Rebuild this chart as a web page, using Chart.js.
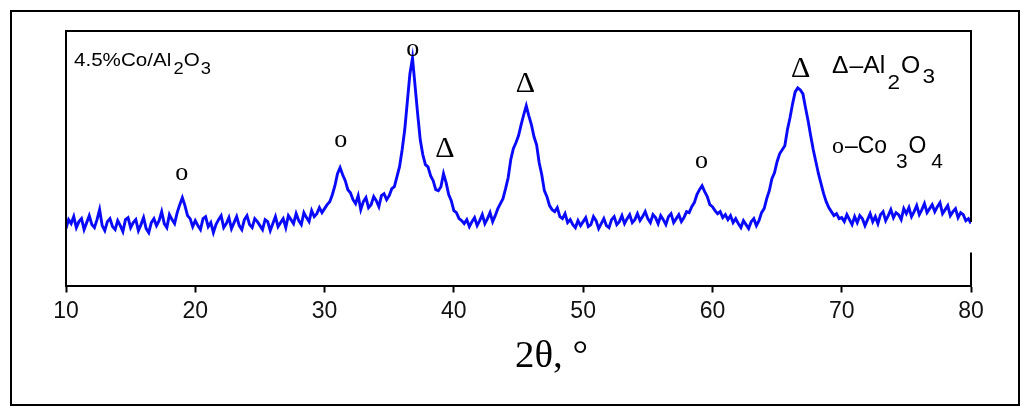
<!DOCTYPE html>
<html>
<head>
<meta charset="utf-8">
<script src="https://cdn.jsdelivr.net/npm/chart.js@4.4.1/dist/chart.umd.min.js"></script>
<style>
  html, body { margin: 0; padding: 0; background: #fff; }
  #wrap { width: 1027px; height: 417px; position: relative; }
</style>
</head>
<body>
<div id="wrap"><canvas id="c" width="1027" height="417"></canvas></div>
<script>
// ---------- DATA ----------
const twoTheta = [
  10,10.2,10.4,10.6,10.8,11,11.2,11.4,11.6,11.8,12,12.2,12.4,12.6,12.8,13,13.2,13.4,13.6,13.8,14,14.2,14.4,14.6,14.8,
  15,15.2,15.4,15.6,15.8,16,16.2,16.4,16.6,16.8,17,17.2,17.4,17.6,17.8,18,18.2,18.4,18.6,18.8,19,19.2,19.4,19.6,19.8,
  20,20.2,20.4,20.6,20.8,21,21.2,21.4,21.6,21.8,22,22.2,22.4,22.6,22.8,23,23.2,23.4,23.6,23.8,24,24.2,24.4,24.6,24.8,
  25,25.2,25.4,25.6,25.8,26,26.2,26.4,26.6,26.8,27,27.2,27.4,27.6,27.8,28,28.2,28.4,28.6,28.8,29,29.2,29.4,29.6,29.8,
  30,30.2,30.4,30.6,30.8,31,31.2,31.4,31.6,31.8,32,32.2,32.4,32.6,32.8,33,33.2,33.4,33.6,33.8,34,34.2,34.4,34.6,34.8,
  35,35.2,35.4,35.6,35.8,36,36.2,36.4,36.6,36.8,37,37.2,37.4,37.6,37.8,38,38.2,38.4,38.6,38.8,39,39.2,39.4,39.6,39.8,
  40,40.2,40.4,40.6,40.8,41,41.2,41.4,41.6,41.8,42,42.2,42.4,42.6,42.8,43,43.2,43.4,43.6,43.8,44,44.2,44.4,44.6,44.8,
  45,45.2,45.4,45.6,45.8,46,46.2,46.4,46.6,46.8,47,47.2,47.4,47.6,47.8,48,48.2,48.4,48.6,48.8,49,49.2,49.4,49.6,49.8,
  50,50.2,50.4,50.6,50.8,51,51.2,51.4,51.6,51.8,52,52.2,52.4,52.6,52.8,53,53.2,53.4,53.6,53.8,54,54.2,54.4,54.6,54.8,
  55,55.2,55.4,55.6,55.8,56,56.2,56.4,56.6,56.8,57,57.2,57.4,57.6,57.8,58,58.2,58.4,58.6,58.8,59,59.2,59.4,59.6,59.8,
  60,60.2,60.4,60.6,60.8,61,61.2,61.4,61.6,61.8,62,62.2,62.4,62.6,62.8,63,63.2,63.4,63.6,63.8,64,64.2,64.4,64.6,64.8,
  65,65.2,65.4,65.6,65.8,66,66.2,66.4,66.6,66.8,67,67.2,67.4,67.6,67.8,68,68.2,68.4,68.6,68.8,69,69.2,69.4,69.6,69.8,
  70,70.2,70.4,70.6,70.8,71,71.2,71.4,71.6,71.8,72,72.2,72.4,72.6,72.8,73,73.2,73.4,73.6,73.8,74,74.2,74.4,74.6,74.8,
  75,75.2,75.4,75.6,75.8,76,76.2,76.4,76.6,76.8,77,77.2,77.4,77.6,77.8,78,78.2,78.4,78.6,78.8,79,79.2,79.4,79.6,79.8,
  80
];
const intensity = [
  57,66,62,69,58,64,67,56,63,70,61,58,66,76,60,55,64,67,59,56,65,60,54,66,68,
  58,63,66,55,61,68,57,53,63,67,60,65,74,62,58,71,66,62,73,81,88,80,70,67,59,
  65,60,56,67,69,59,63,53,61,66,70,58,62,68,57,63,69,60,56,66,70,61,58,67,64,
  60,56,66,64,55,62,69,59,63,67,58,70,66,62,72,65,61,73,68,64,75,69,72,78,73,
  77,81,84,91,100,112,118,111,105,96,93,86,82,90,76,84,88,78,81,89,85,79,90,92,86,
  90,97,99,109,119,136,156,184,212,228,200,172,146,131,121,119,110,105,96,95,99,112,103,91,85,
  75,73,67,65,62,66,59,64,68,60,65,71,62,67,73,64,70,77,82,87,97,108,126,137,143,
  150,161,171,180,170,161,149,141,123,111,95,89,80,76,74,78,69,67,72,63,66,61,58,65,60,
  64,68,59,61,69,65,57,62,67,60,58,66,69,61,64,70,62,67,71,63,66,72,65,69,74,
  67,63,71,68,62,70,66,61,69,72,63,67,71,64,68,74,73,79,83,91,96,100,94,89,81,
  79,75,72,74,68,71,66,70,63,67,62,58,65,61,57,64,67,60,65,73,77,87,95,107,113,
  124,132,136,140,156,168,182,194,198,196,192,178,165,150,136,124,112,102,92,84,78,74,70,72,67,
  68,64,71,66,61,69,63,70,67,60,66,72,64,69,62,71,74,65,70,76,68,73,71,66,77,
  72,78,69,74,80,71,76,82,73,77,81,74,79,83,72,76,80,70,74,77,68,73,71,65,67,
  62
];
const tickValues = [10, 20, 30, 40, 50, 60, 70, 80];
// phase markers: 2θ of the labelled peak and the intensity level where the symbol sits
const co3o4Angles = [18.96, 31.25, 36.82, 59.15];
const co3o4Levels = [112, 145, 236, 123.5];
const al2o3Angles = [39.3, 45.53, 66.83];
const al2o3Levels = [139, 204, 219];
const sampleLabel = ['4.5%Co/Al', '2', 'O', '3'];
const legendAl = ['Δ', '–', 'Al', '2', 'O', '3'];
const legendCo = ['o', '–Co', '3', 'O', '4'];
const axisTitle = '2θ, °';

// ---------- drawing helpers ----------
const SANS = '"Liberation Sans", Arial, sans-serif';
const SERIF = '"Liberation Serif", "Times New Roman", serif';

function rich(ctx, x, y, parts, targetW) {
  let w = 0;
  parts.forEach(p => { ctx.font = p.f; w += (p.g || 0) + ctx.measureText(p.t).width; });
  const sx = targetW ? targetW / w : 1;
  ctx.save();
  ctx.translate(x, y);
  ctx.scale(sx, 1);
  ctx.textAlign = 'left';
  ctx.textBaseline = 'alphabetic';
  let cx = 0;
  parts.forEach(p => {
    ctx.font = p.f;
    cx += p.g || 0;
    ctx.fillText(p.t, cx, p.dy || 0);
    cx += ctx.measureText(p.t).width;
  });
  ctx.restore();
}

const decor = {
  id: 'decor',
  beforeDraw(chart) {
    const ctx = chart.ctx;
    ctx.save();
    ctx.fillStyle = '#fff';
    ctx.fillRect(0, 0, chart.width, chart.height);
    ctx.restore();
  },
  afterDatasetsDraw(chart) {
    const { ctx, chartArea: a, scales: { x, y } } = chart;
    ctx.save();
    ctx.fillStyle = '#000';
    ctx.strokeStyle = '#000';
    // outer frame
    ctx.lineWidth = 2;
    ctx.strokeRect(11, 11, 1008, 394);
    // inner box (top, left, right with its small gap)
    ctx.beginPath();
    ctx.moveTo(a.left, a.bottom);
    ctx.lineTo(a.left, a.top);
    ctx.lineTo(a.right, a.top);
    ctx.lineTo(a.right, a.top + a.height * 0.75);
    ctx.moveTo(a.right, a.top + a.height * 0.87);
    ctx.lineTo(a.right, a.bottom);
    ctx.stroke();

    // peak symbols
    ctx.textAlign = 'center';
    ctx.textBaseline = 'alphabetic';
    ctx.font = '26px ' + SERIF;
    co3o4Angles.forEach((t, i) => {
      ctx.fillText('o', x.getPixelForValue(t), y.getPixelForValue(co3o4Levels[i]) + 26 * 0.23);
    });
    ctx.font = '30px ' + SERIF;
    al2o3Angles.forEach((t, i) => {
      ctx.fillText('Δ', x.getPixelForValue(t), y.getPixelForValue(al2o3Levels[i]) + 30 * 0.33);
    });

    // sample label
    rich(ctx, a.left + 8, a.top + 34.5, [
      { t: sampleLabel[0], f: '18px ' + SANS },
      { t: sampleLabel[1], f: '16px ' + SANS, dy: 8, g: 2 },
      { t: sampleLabel[2], f: '18px ' + SANS },
      { t: sampleLabel[3], f: '16px ' + SANS, dy: 8, g: 1 }
    ], 137);

    // phase legend
    rich(ctx, 832, 73, [
      { t: legendAl[0], f: '23px ' + SANS },
      { t: legendAl[1], f: '23px ' + SANS, g: 1 },
      { t: legendAl[2], f: '23px ' + SANS },
      { t: legendAl[3], f: '21px ' + SANS, dy: 16, g: 2 },
      { t: legendAl[4], f: '23px ' + SANS, g: 1 },
      { t: legendAl[5], f: '21px ' + SANS, dy: 10, g: 2 }
    ], 103);
    rich(ctx, 832, 153, [
      { t: legendCo[0], f: '24px ' + SERIF },
      { t: legendCo[1], f: '23px ' + SANS, g: 1 },
      { t: legendCo[2], f: '21px ' + SANS, dy: 15, g: 9 },
      { t: legendCo[3], f: '23px ' + SANS, g: 1 },
      { t: legendCo[4], f: '21px ' + SANS, dy: 15, g: 5 }
    ], 111);

    // x-axis title
    rich(ctx, 515, 367, [{ t: axisTitle, f: '37px ' + SERIF }], 73);
    ctx.restore();
  }
};

const points = twoTheta.map((t, i) => ({ x: t, y: intensity[i] }));

new Chart(document.getElementById('c'), {
  type: 'line',
  data: {
    datasets: [{
      data: points,
      borderColor: 'rgb(10,10,250)',
      borderWidth: 2.9,
      pointRadius: 0,
      tension: 0,
      fill: false
    }]
  },
  options: {
    responsive: false,
    animation: false,
    devicePixelRatio: 1,
    layout: { padding: { left: 66, right: 56, top: 31, bottom: 0 } },
    plugins: { legend: { display: false }, tooltip: { enabled: false } },
    scales: {
      x: {
        type: 'linear',
        min: 10,
        max: 80,
        afterBuildTicks(scale) { scale.ticks = tickValues.map(v => ({ value: v })); },
        afterFit(scale) { scale.height = 131.5; },
        ticks: {
          color: '#111',
          padding: 5,
          font: { family: SANS, size: 23 },
          callback: v => String(v)
        },
        grid: {
          drawOnChartArea: false,
          drawTicks: true,
          tickLength: 7,
          tickColor: '#000',
          tickWidth: 2
        },
        border: { display: true, color: '#000', width: 2 },
        title: { display: false }
      },
      y: {
        display: false,
        min: 0,
        max: 255
      }
    }
  },
  plugins: [decor]
});
</script>
</body>
</html>
